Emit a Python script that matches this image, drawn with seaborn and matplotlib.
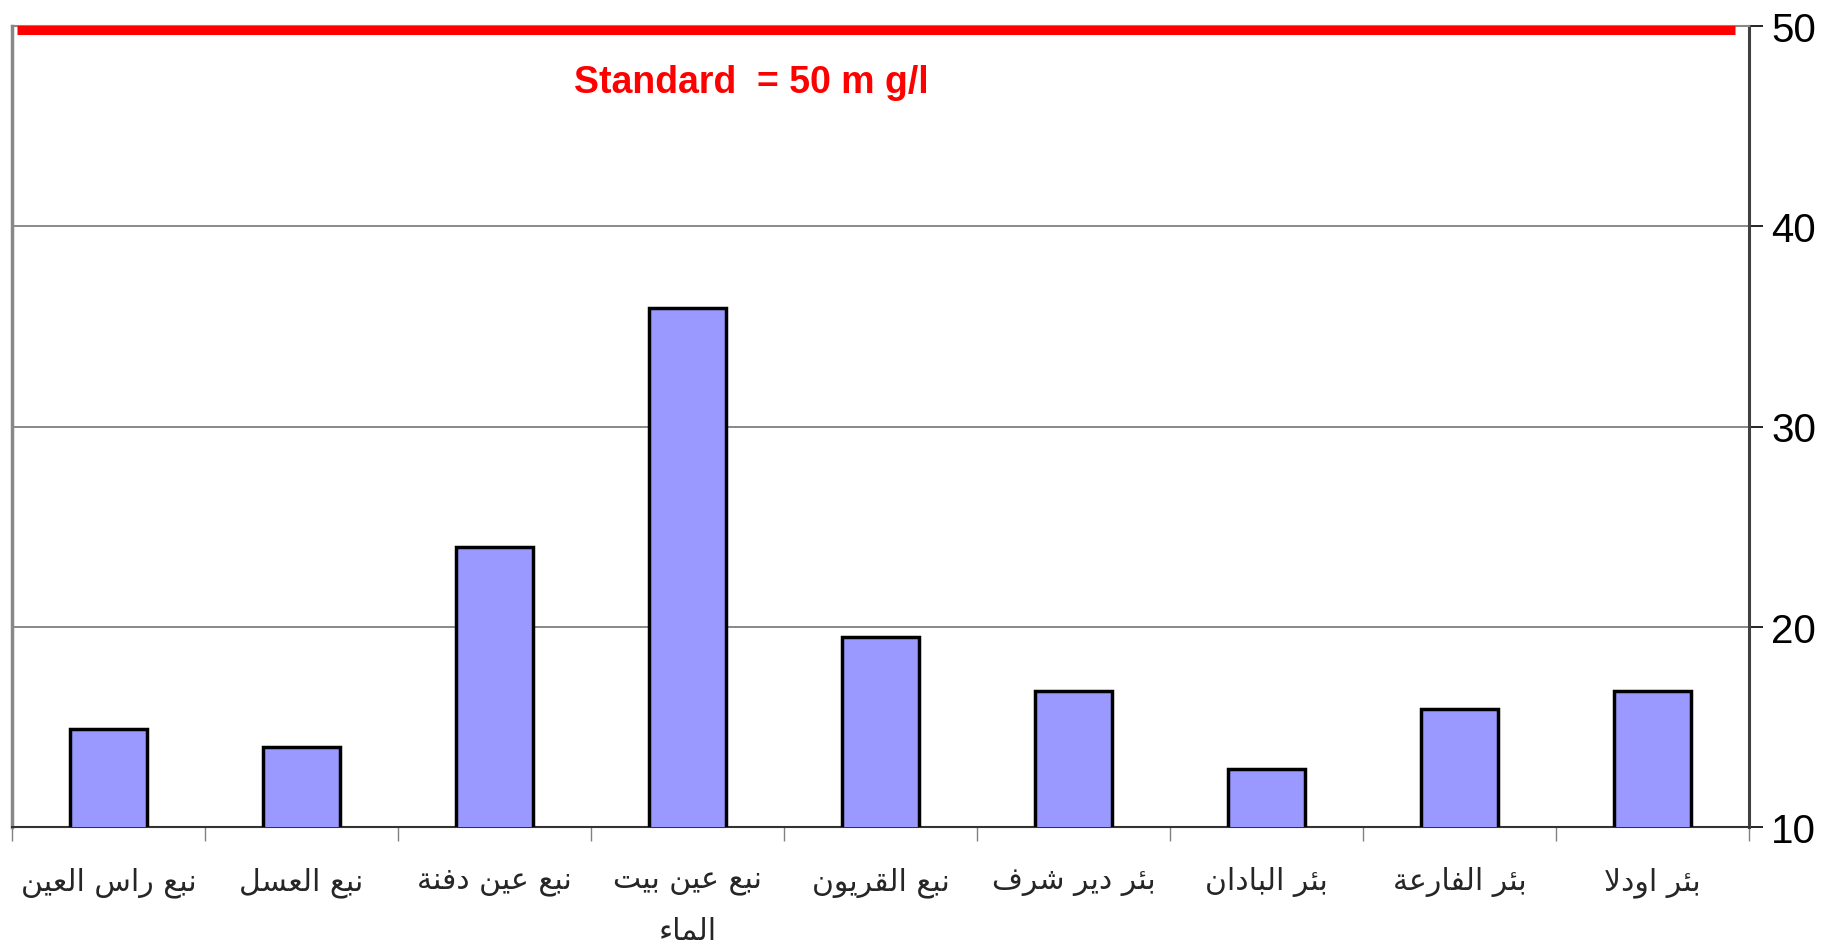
import textwrap
import numpy as np
import matplotlib
matplotlib.use("Agg")
import matplotlib.pyplot as plt
import matplotlib.transforms as mtransforms
import seaborn as sns

# ---------------- data ----------------
sites = ["نبع راس العين", "نبع العسل", "نبع عين دفنة", "نبع عين بيت الماء", "نبع القريون",
         "بئر دير شرف", "بئر البادان", "بئر الفارعة", "بئر اودلا"]
values = [14.9, 14.0, 24.0, 35.9, 19.5, 16.8, 12.9, 15.9, 16.8]
standard = 50
y_ticks = [10, 20, 30, 40, 50]
standard_label = "Standard  = 50 m g/l"

# ---------------- minimal Arabic shaping (matplotlib has no shaping/bidi) ----------------
FORMS = {
    'آ': (0xFE81, 0xFE82), 'أ': (0xFE83, 0xFE84), 'ؤ': (0xFE85, 0xFE86), 'إ': (0xFE87, 0xFE88),
    'ئ': (0xFE89, 0xFE8A, 0xFE8B, 0xFE8C), 'ا': (0xFE8D, 0xFE8E),
    'ب': (0xFE8F, 0xFE90, 0xFE91, 0xFE92), 'ة': (0xFE93, 0xFE94),
    'ت': (0xFE95, 0xFE96, 0xFE97, 0xFE98), 'ث': (0xFE99, 0xFE9A, 0xFE9B, 0xFE9C),
    'ج': (0xFE9D, 0xFE9E, 0xFE9F, 0xFEA0), 'ح': (0xFEA1, 0xFEA2, 0xFEA3, 0xFEA4),
    'خ': (0xFEA5, 0xFEA6, 0xFEA7, 0xFEA8), 'د': (0xFEA9, 0xFEAA), 'ذ': (0xFEAB, 0xFEAC),
    'ر': (0xFEAD, 0xFEAE), 'ز': (0xFEAF, 0xFEB0),
    'س': (0xFEB1, 0xFEB2, 0xFEB3, 0xFEB4), 'ش': (0xFEB5, 0xFEB6, 0xFEB7, 0xFEB8),
    'ص': (0xFEB9, 0xFEBA, 0xFEBB, 0xFEBC), 'ض': (0xFEBD, 0xFEBE, 0xFEBF, 0xFEC0),
    'ط': (0xFEC1, 0xFEC2, 0xFEC3, 0xFEC4), 'ظ': (0xFEC5, 0xFEC6, 0xFEC7, 0xFEC8),
    'ع': (0xFEC9, 0xFECA, 0xFECB, 0xFECC), 'غ': (0xFECD, 0xFECE, 0xFECF, 0xFED0),
    'ف': (0xFED1, 0xFED2, 0xFED3, 0xFED4), 'ق': (0xFED5, 0xFED6, 0xFED7, 0xFED8),
    'ك': (0xFED9, 0xFEDA, 0xFEDB, 0xFEDC), 'ل': (0xFEDD, 0xFEDE, 0xFEDF, 0xFEE0),
    'م': (0xFEE1, 0xFEE2, 0xFEE3, 0xFEE4), 'ن': (0xFEE5, 0xFEE6, 0xFEE7, 0xFEE8),
    'ه': (0xFEE9, 0xFEEA, 0xFEEB, 0xFEEC), 'و': (0xFEED, 0xFEEE), 'ى': (0xFEEF, 0xFEF0),
    'ي': (0xFEF1, 0xFEF2, 0xFEF3, 0xFEF4),
}
LAM_ALEF = {'ا': (0xFEFB, 0xFEFC), 'أ': (0xFEF7, 0xFEF8), 'إ': (0xFEF9, 0xFEFA), 'آ': (0xFEF5, 0xFEF6)}


def shape_line(text):
    chars = list(text)
    n = len(chars)
    out = []
    prev_join = False
    i = 0
    while i < n:
        c = chars[i]
        if c not in FORMS:
            out.append(c)
            prev_join = False
            i += 1
            continue
        if c == 'ل' and i + 1 < n and chars[i + 1] in LAM_ALEF:
            out.append(chr(LAM_ALEF[chars[i + 1]][1 if prev_join else 0]))
            prev_join = False
            i += 2
            continue
        f = FORMS[c]
        next_join = len(f) == 4 and i + 1 < n and chars[i + 1] in FORMS
        if prev_join and next_join:
            g = f[3]
        elif prev_join:
            g = f[1]
        elif next_join:
            g = f[2]
        else:
            g = f[0]
        out.append(chr(g))
        prev_join = len(f) == 4
        i += 1
    return ''.join(reversed(out))


def display_label(text):
    return "\n".join(shape_line(line) for line in textwrap.wrap(text, width=13))


# ---------------- plot ----------------
sns.set_theme(style="white")
plt.rcParams['font.family'] = ['Liberation Sans', 'DejaVu Sans']

W, H = 1838, 953
fig = plt.figure(figsize=(W / 100, H / 100), dpi=100)
ax_left, ax_right, ax_top, ax_bottom = 12, 1749, 27, 828
ax = fig.add_axes([ax_left / W, (H - ax_bottom) / H, (ax_right - ax_left) / W, (ax_bottom - ax_top) / H])

sns.barplot(x=sites, y=values, ax=ax, color="#9999FF", saturation=1, width=0.4,
            edgecolor="black", linewidth=2.5, zorder=3)

ax.set_xlim(-0.5, len(sites) - 0.5)
ax.set_ylim(y_ticks[0], y_ticks[-1])
ax.set_xlabel("")
ax.set_ylabel("")

# y axis on the right
ax.yaxis.tick_right()
ax.set_yticks(y_ticks)
ax.set_yticklabels([str(t) for t in y_ticks])
ax.tick_params(axis='y', which='major', direction='out', length=10, width=1.2,
               labelsize=29, pad=6, right=True, left=False, colors='black')
ax.yaxis.grid(True, color="#808080", linewidth=1.3)
ax.xaxis.grid(False)
ax.set_axisbelow(True)

# x axis: labels at centres, tick marks at boundaries
ax.set_xticks(range(len(sites)))
ax.set_xticklabels([display_label(s) for s in sites], fontsize=21.5,
                   family=['DejaVu Sans'], linespacing=1.9)
ax.tick_params(axis='x', which='major', length=0, pad=28)
ax.set_xticks(np.arange(-0.5, len(sites), 1.0), minor=True)
ax.tick_params(axis='x', which='minor', direction='out', length=10, width=1.0,
               color='#808080', bottom=True)

# spines
for s in ax.spines.values():
    s.set_visible(True)
ax.spines['left'].set_color('#888888')
ax.spines['left'].set_linewidth(2.5)
ax.spines['right'].set_color('#404040')
ax.spines['right'].set_linewidth(2.2)
ax.spines['bottom'].set_color('#333333')
ax.spines['bottom'].set_linewidth(1.5)
ax.spines['top'].set_color('#888888')
ax.spines['top'].set_linewidth(1.5)

# standard line and label
line_tr = mtransforms.offset_copy(ax.get_yaxis_transform(), fig=fig, x=0, y=-4, units='dots')
ax.plot([0.003, 0.992], [standard, standard], transform=line_tr, color="#FF0000",
        linewidth=6.5, solid_capstyle='butt', clip_on=False, zorder=6)
ax.text(3.33, 47.2, standard_label, color="#FF0000", fontsize=27, fontweight='bold',
        ha='center', va='center')

fig.savefig("out.png", dpi=100)
